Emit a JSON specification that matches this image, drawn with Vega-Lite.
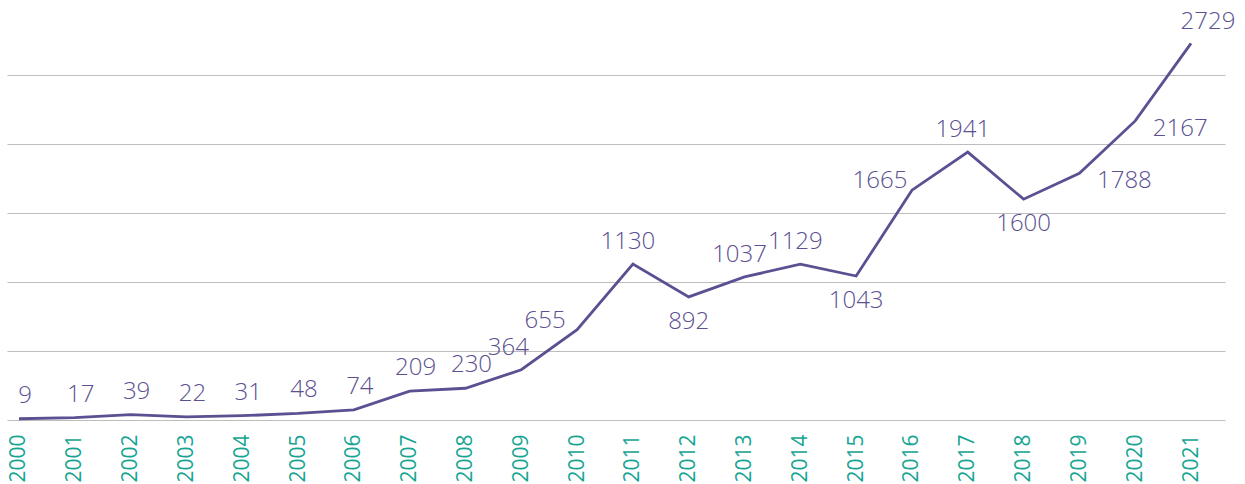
{
  "$schema": "https://vega.github.io/schema/vega-lite/v6.json",
  "width": 1218,
  "height": 420,
  "autosize": "none",
  "padding": {"left": 7, "top": 0, "right": 20, "bottom": 64},
  "background": "white",
  "config": {"view": {"stroke": null}, "font": "Open Sans"},
  "data": {"values": [
    {"year": 2000, "value": 9},
    {"year": 2001, "value": 17},
    {"year": 2002, "value": 39},
    {"year": 2003, "value": 22},
    {"year": 2004, "value": 31},
    {"year": 2005, "value": 48},
    {"year": 2006, "value": 74},
    {"year": 2007, "value": 209},
    {"year": 2008, "value": 230},
    {"year": 2009, "value": 364},
    {"year": 2010, "value": 655},
    {"year": 2011, "value": 1130},
    {"year": 2012, "value": 892},
    {"year": 2013, "value": 1037},
    {"year": 2014, "value": 1129},
    {"year": 2015, "value": 1043},
    {"year": 2016, "value": 1665},
    {"year": 2017, "value": 1941},
    {"year": 2018, "value": 1600},
    {"year": 2019, "value": 1788},
    {"year": 2020, "value": 2167},
    {"year": 2021, "value": 2729}
  ]},
  "encoding": {
    "x": {
      "field": "year", "type": "quantitative",
      "scale": {"domain": [1999.785, 2021.609], "nice": false, "zero": false},
      "axis": {
        "title": null, "values": [2000,2001,2002,2003,2004,2005,2006,2007,2008,2009,2010,2011,2012,2013,2014,2015,2016,2017,2018,2019,2020,2021],
        "format": "d", "labelAngle": 270, "labelAlign": "right", "labelBaseline": "middle",
        "labelPadding": 14, "labelFontSize": 21, "labelColor": "#16a592", "labelFont": "Open Sans",
        "domain": false, "ticks": false, "grid": false, "labelFlush": false, "labelOverlap": false
      }
    },
    "y": {
      "field": "value", "type": "quantitative",
      "scale": {"domain": [0, 3043], "nice": false},
      "axis": {
        "title": null, "values": [0, 500, 1000, 1500, 2000, 2500], "labels": false,
        "domain": false, "ticks": false, "grid": true, "gridColor": "#bdbdbd", "gridWidth": 1
      }
    }
  },
  "layer": [
    {"mark": {"type": "line", "color": "#5b5091", "strokeWidth": 2.8}},
    {
      "transform": [{"filter": {"field": "year", "range": [2000, 2008]}}],
      "mark": {"type": "text", "fontSize": 24, "fontWeight": 300, "color": "#5b5091", "align": "center", "baseline": "middle", "dx": 6, "dy": -23},
      "encoding": {"text": {"field": "value"}}
    },
    {
      "transform": [{"filter": {"field": "year", "oneOf": [2011, 2013, 2014, 2017]}}],
      "mark": {"type": "text", "fontSize": 24, "fontWeight": 300, "color": "#5b5091", "align": "center", "baseline": "middle", "dx": -5, "dy": -22},
      "encoding": {"text": {"field": "value"}}
    },
    {
      "transform": [{"filter": {"field": "year", "equal": 2009}}],
      "mark": {"type": "text", "fontSize": 24, "fontWeight": 300, "color": "#5b5091", "align": "center", "baseline": "middle", "dx": -13, "dy": -22},
      "encoding": {"text": {"field": "value"}}
    },
    {
      "transform": [{"filter": {"field": "year", "oneOf": [2012, 2015, 2018]}}],
      "mark": {"type": "text", "fontSize": 24, "fontWeight": 300, "color": "#5b5091", "align": "center", "baseline": "middle", "dx": 0, "dy": 25},
      "encoding": {"text": {"field": "value"}}
    },
    {
      "transform": [{"filter": {"field": "year", "oneOf": [2010, 2016]}}],
      "mark": {"type": "text", "fontSize": 24, "fontWeight": 300, "color": "#5b5091", "align": "center", "baseline": "middle", "dx": -32, "dy": -9},
      "encoding": {"text": {"field": "value"}}
    },
    {
      "transform": [{"filter": {"field": "year", "oneOf": [2019, 2020]}}],
      "mark": {"type": "text", "fontSize": 24, "fontWeight": 300, "color": "#5b5091", "align": "center", "baseline": "middle", "dx": 45, "dy": 8},
      "encoding": {"text": {"field": "value"}}
    },
    {
      "transform": [{"filter": {"field": "year", "equal": 2021}}],
      "mark": {"type": "text", "fontSize": 24, "fontWeight": 300, "color": "#5b5091", "align": "center", "baseline": "middle", "dx": 17, "dy": -21},
      "encoding": {"text": {"field": "value"}}
    }
  ]
}
